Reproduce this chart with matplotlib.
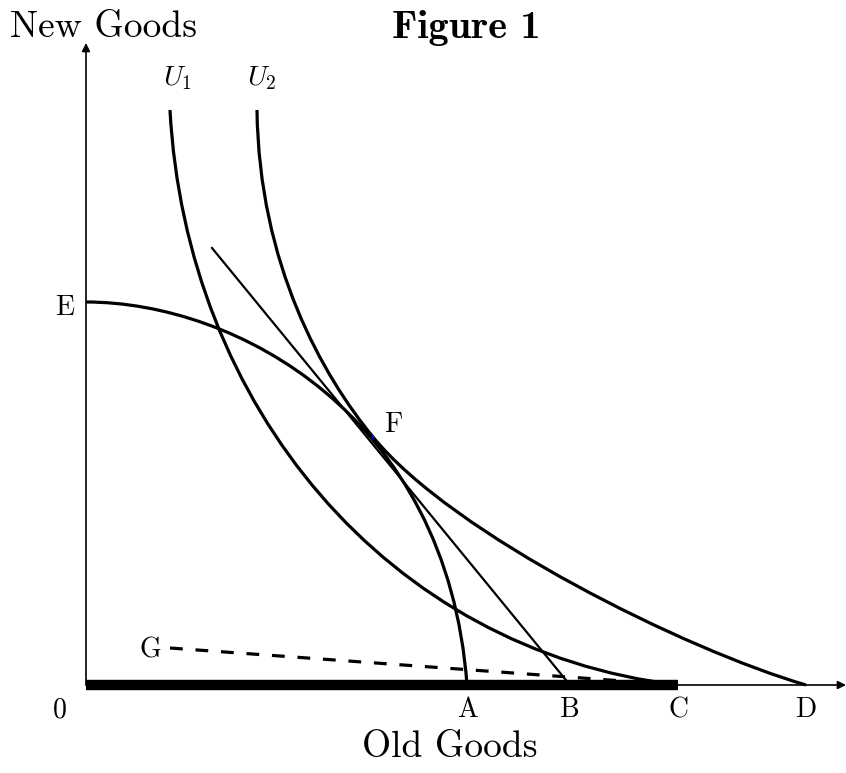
import matplotlib
matplotlib.use("Agg")
import matplotlib.pyplot as plt
from matplotlib.path import Path
from matplotlib.patches import PathPatch

plt.rcParams['mathtext.fontset'] = 'cm'

# ---- data (units: pixels from origin 0) ----
point_labels = ["A", "B", "C", "D"]
point_x = [381, 484, 592, 720]

E_y = 383
F_xy = [287, 248]
G_xy = [84, 37]

# production possibility frontier E -> A (cubic Bezier control points)
ppf_x = [0, 150, 361, 381]
ppf_y = [383, 383, 270, 0]

# indifference curve U1 (top -> C)
u1_x = [84, 100, 300, 592]
u1_y = [575, 280, 35, 0]

# indifference curve U2 (top -> F -> D), two cubic segments
u2_x = [171, 173, 237, 287, 367, 600, 720]
u2_y = [575, 420, 309, 248, 150, 35, 0]

# price (budget) line through F to B
line_x = [126, 484]
line_y = [437, 0]

# dashed G -> C
dash_x = [84, 592]
dash_y = [37, 0]

# thick segment on axis 0 -> C
bar_x = [0, 592]
bar_y = [0, 0]

fig = plt.figure(figsize=(8.46, 7.73), dpi=100)
ax = fig.add_axes([0, 0, 1, 1])
ax.set_xlim(-86, 760)
ax.set_ylim(-88, 685)
ax.axis('off')

def bezier(xs, ys, lw):
    verts = list(zip(xs, ys))
    n = (len(verts) - 1) // 3
    codes = [Path.MOVETO] + [Path.CURVE4] * (3 * n)
    ax.add_patch(PathPatch(Path(verts, codes), fill=False, lw=lw,
                           edgecolor='black', capstyle='butt'))

# axes with arrows
ax.annotate('', xy=(0, 642), xytext=(0, 0),
            arrowprops=dict(arrowstyle='-|>', lw=1.2, color='black',
                            mutation_scale=12, shrinkA=0, shrinkB=0))
ax.annotate('', xy=(760, 0), xytext=(0, 0),
            arrowprops=dict(arrowstyle='-|>', lw=1.2, color='black',
                            mutation_scale=12, shrinkA=0, shrinkB=0))

# thick bar
ax.plot(bar_x, bar_y, color='black', lw=7.5, solid_capstyle='butt', zorder=3)

# curves
bezier(ppf_x, ppf_y, 2.3)
bezier(u1_x, u1_y, 2.3)
bezier(u2_x, u2_y, 2.3)
ax.plot(line_x, line_y, color='black', lw=1.6)
ax.plot(dash_x, dash_y, color='black', lw=2.3, dashes=(4, 4))

# small blue mark at F
ax.plot([F_xy[0]], [F_xy[1]], marker='|', color='blue', ms=3, mew=1.2, zorder=4)

# labels
lab = dict(fontfamily='cmr10', fontsize=20, color='black')
for name, x in zip(point_labels, point_x):
    ax.text(x, -32, name, ha='center', va='baseline', **lab)
ax.text(-26, -32, "0", ha='center', va='baseline', **lab)
ax.text(-21, E_y - 13, "E", ha='center', va='baseline', **lab)
ax.text(F_xy[0] + 20, F_xy[1] + 5, "F", ha='center', va='baseline', **lab)
ax.text(G_xy[0] - 20, G_xy[1] - 10, "G", ha='center', va='baseline', **lab)

ax.text(92, 600, r"$U_1$", ha='center', va='baseline', fontsize=20)
ax.text(176, 600, r"$U_2$", ha='center', va='baseline', fontsize=20)

ax.text(-76, 648, "New Goods", ha='left', va='baseline',
        fontfamily='cmr10', fontsize=27)
ax.text(364, -72, "Old Goods", ha='center', va='baseline',
        fontfamily='cmr10', fontsize=27)
ax.text(380, 647, "Figure 1", ha='center', va='baseline',
        fontfamily='cmb10', fontsize=29)

fig.savefig("out.png", dpi=100)
